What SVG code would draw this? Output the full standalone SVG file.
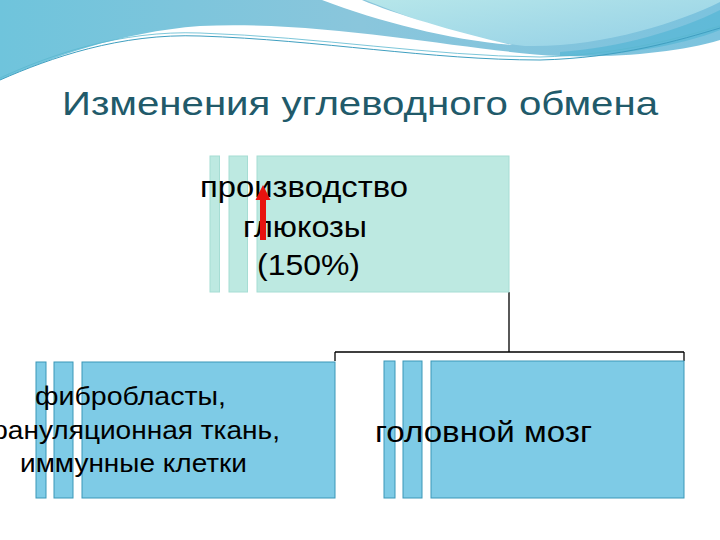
<svg xmlns="http://www.w3.org/2000/svg" width="720" height="540" viewBox="0 0 720 540">
<defs>
<linearGradient id="sky" x1="0" y1="0" x2="1" y2="0">
<stop offset="0" stop-color="#6fc4dc"/>
<stop offset="0.5" stop-color="#8ac6dc"/>
<stop offset="1" stop-color="#7cc3de"/>
</linearGradient>
<linearGradient id="cyan" x1="0" y1="0" x2="1" y2="1">
<stop offset="0" stop-color="#b6e6ea"/>
<stop offset="1" stop-color="#94d0e6"/>
</linearGradient>
<style>
.t{font-family:"Liberation Sans",Arial,sans-serif;fill:#000;text-anchor:middle}
.top{fill:#bde9e1;stroke:#a6ddd4;stroke-width:1}
.bot{fill:#7ecbe6;stroke:#3a97b8;stroke-width:1}
.con{fill:none;stroke:#000;stroke-width:1.3}
</style>
</defs>
<rect width="720" height="540" fill="#fff"/>
<g id="background">
<path d="M0,0 H720 V40 C680,52 620,58 560,56 C470,52 330,20 200,26 C120,32 50,58 0,80 Z" fill="url(#sky)"/>
<path d="M365,0 C420,22 470,40 525,46 C600,48 680,22 720,2 V0 Z" fill="url(#cyan)"/>
<path d="M322,0 C380,22 450,40 512,45 C455,32 395,14 362,0 Z" fill="#fff"/>
<path d="M560,52 C620,48 680,30 720,10 V30 C680,46 620,56 560,56 Z" fill="#4fb4d4" opacity="0.6"/>
<path d="M0,80 C50,58 120,33 200,36 C320,40 430,60 540,60 C620,58 680,40 720,28" fill="none" stroke="#3f9fc0" stroke-width="1"/>
<path d="M0,78 C50,55 120,30 200,33 C320,37 430,56 540,57 C620,55 680,38 720,26" fill="none" stroke="#5ab7cf" stroke-width="0.8"/>
</g>
<text x="360" y="115" font-family="Liberation Sans,Arial,sans-serif" font-size="33" fill="#215a6a" text-anchor="middle" textLength="596" lengthAdjust="spacingAndGlyphs">Изменения углеводного обмена</text>
<g id="connectors">
<path class="con" d="M509,292 V352 M335,352 H684 M335,352 V361 M684,352 V361"/>
</g>
<g id="node-top">
<rect class="top" x="210" y="156" width="9.5" height="136"/>
<rect class="top" x="229" y="156" width="18.5" height="136"/>
<rect class="top" x="257" y="156" width="252" height="136"/>
<text class="t" font-size="29" lengthAdjust="spacingAndGlyphs" x="304" y="197" textLength="208">производство</text>
<text class="t" font-size="29" lengthAdjust="spacingAndGlyphs" x="305" y="237" textLength="124">глюкозы</text>
<text class="t" font-size="29" lengthAdjust="spacingAndGlyphs" x="308.5" y="275" textLength="103">(150%)</text>
<path d="M263,240 V198" stroke="#e8130f" stroke-width="6"/>
<polygon points="255.5,200 270.5,200 263,185" fill="#e8130f"/>
</g>
<g id="node-left">
<rect class="bot" x="36" y="362" width="10" height="136"/>
<rect class="bot" x="54" y="362" width="19" height="136"/>
<rect class="bot" x="82" y="362" width="253" height="136"/>
<text class="t" font-size="25" lengthAdjust="spacingAndGlyphs" x="130.5" y="405" textLength="191">фибробласты,</text>
<text class="t" font-size="25" lengthAdjust="spacingAndGlyphs" x="131" y="439" textLength="298">грануляционная ткань,</text>
<text class="t" font-size="25" lengthAdjust="spacingAndGlyphs" x="133.5" y="472" textLength="227">иммунные клетки</text>
</g>
<g id="node-right">
<rect class="bot" x="384" y="361" width="11" height="137"/>
<rect class="bot" x="403" y="361" width="19" height="137"/>
<rect class="bot" x="431" y="361" width="253" height="137"/>
<text class="t" x="483.5" y="442" font-size="29" textLength="217" lengthAdjust="spacingAndGlyphs">головной мозг</text>
</g>
</svg>
